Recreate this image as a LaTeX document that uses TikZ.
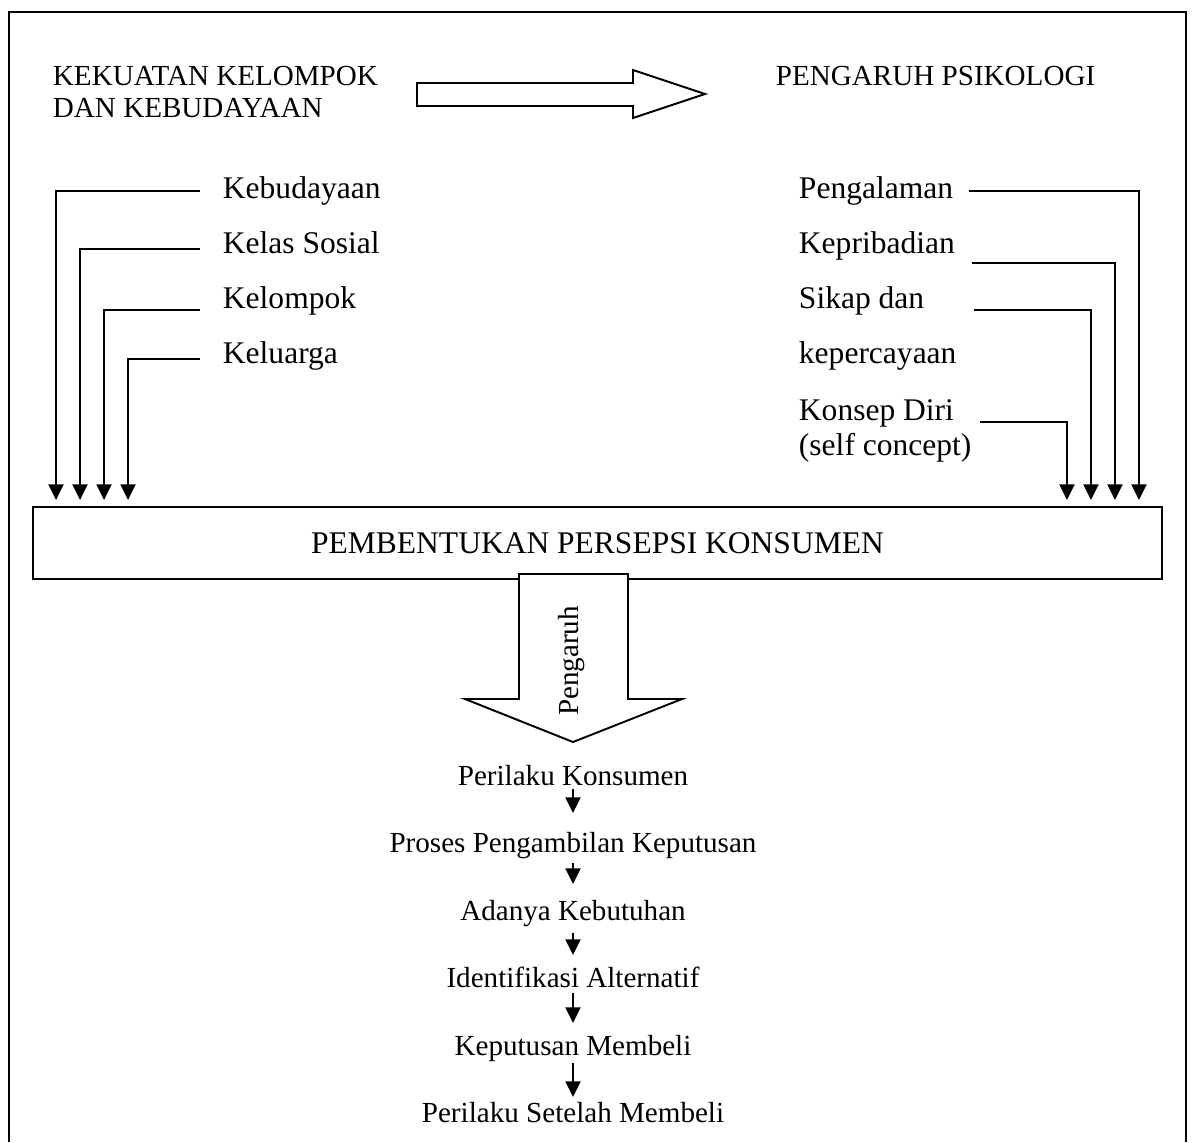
\documentclass[tikz,border=0pt]{standalone}
\usepackage{fontspec}
\setmainfont{Liberation Serif}
\usetikzlibrary{arrows.meta,calc}

\begin{document}
\begin{tikzpicture}[
  x=0.4124pt, y=-0.4124pt,
  >={Triangle[length=6.5pt,width=6.2pt]},
  line width=0.8pt,
  title/.style={font=\fontsize{12}{13.2}\selectfont, inner sep=0pt,
                align=left, anchor=north west},
  item/.style={font=\fontsize{13}{14.4}\selectfont, inner sep=0pt,
               anchor=base west},
  chainitem/.style={font=\fontsize{12}{14}\selectfont, inner sep=0pt,
                    anchor=base},
  feed/.style={->, line width=0.8pt},
  mainbox/.style={draw, line width=0.8pt, minimum width=465.6pt,
                  minimum height=29.7pt, font=\fontsize{13}{15}\selectfont}
]
\useasboundingbox (0,0) rectangle (1192,1142);

%% ── OUTER FRAME ─────────────────────────────────────────────────
\draw[line width=1.1pt] (9,1142) -- (9,12) -- (1186,12) -- (1186,1142);

%% ── TITLES ──────────────────────────────────────────────────────
\node[title] (grp) at (52,65) {KEKUATAN KELOMPOK\\DAN KEBUDAYAAN};
\node[title] (psy) at (775,65) {PENGARUH PSIKOLOGI};
% hollow arrow between the two titles
\draw[fill=white] (417,83) -- (633,83) -- (633,70) -- (705,94)
  -- (633,118) -- (633,106) -- (417,106) -- cycle;

%% ── MAIN BOX ────────────────────────────────────────────────────
\node[mainbox] (box) at (597.5,543) {PEMBENTUKAN PERSEPSI KONSUMEN};

%% ── LEFT FACTORS ────────────────────────────────────────────────
\node[item] (kbd) at (222,198) {Kebudayaan};
\node[item] (kls) at (222,253) {Kelas Sosial};
\node[item] (klp) at (222,308) {Kelompok};
\node[item] (klg) at (222,363) {Keluarga};

\foreach \n/\dy/\dx in {kbd/-7/24, kls/-4/48, klp/2/72, klg/-4/96}
  \draw[feed] ($(\n.base west)+(-22,\dy)$) -| ($(box.north west)+(\dx,-6)$);

%% ── RIGHT FACTORS ───────────────────────────────────────────────
\node[item] (pgl) at (798,198) {Pengalaman};
\node[item] (kpb) at (798,253) {Kepribadian};
\node[item] (skp) at (798,308) {Sikap dan};
\node[item] (kpc) at (798,363) {kepercayaan};
\node[item, anchor=north west, align=left] (kds) at (798,399)
  {Konsep Diri\\(self concept)};

\draw[feed] ($(pgl.base west)+(171,-7)$) -| ($(box.north east)+(-24,-6)$);
\draw[feed] ($(kpb.base west)+(174,10)$) -| ($(box.north east)+(-48,-6)$);
\draw[feed] ($(skp.base west)+(176,2)$) -| ($(box.north east)+(-72,-6)$);
\draw[feed] ($(kds.north west)+(182,23)$) -| ($(box.north east)+(-96,-6)$);

%% ── BIG DOWN ARROW ──────────────────────────────────────────────
\draw[fill=white] (519,574) -- (628,574) -- (628,699) -- (682,699)
  -- (573,742) -- (465,699) -- (519,699) -- cycle;
\node[rotate=90, font=\fontsize{12}{14}\selectfont, inner sep=0pt] (inf)
  at (572,661) {Pengaruh};

%% ── DECISION CHAIN ──────────────────────────────────────────────
\node[chainitem] (pk)  at (573,785)  {Perilaku Konsumen};
\node[chainitem] (ppk) at (573,852)  {Proses Pengambilan Keputusan};
\node[chainitem] (akb) at (573,920)  {Adanya Kebutuhan};
\node[chainitem] (ial) at (573,987)  {Identifikasi Alternatif};
\node[chainitem] (kmb) at (573,1055) {Keputusan Membeli};
\node[chainitem] (psm) at (573,1122) {Perilaku Setelah Membeli};

\foreach \a/\b/\s/\e in {pk/ppk/4/39, ppk/akb/11/36, akb/ial/13/32,
                         ial/kmb/6/32, kmb/psm/8/25}
  \draw[feed] ($(\a.base)+(0,\s)$) -- ($(\b.base)+(0,-\e)$);

\end{tikzpicture}
\end{document}
